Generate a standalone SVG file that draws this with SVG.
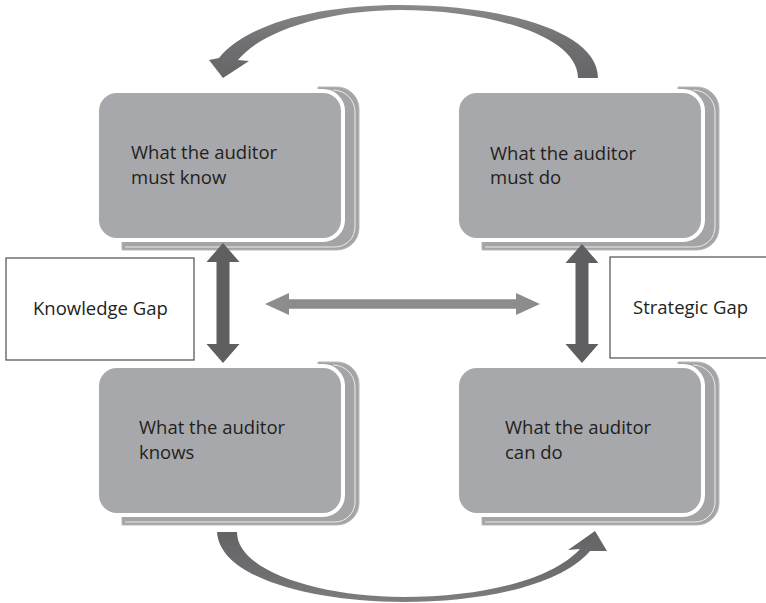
<svg xmlns="http://www.w3.org/2000/svg" xmlns:xlink="http://www.w3.org/1999/xlink" width="766" height="603" viewBox="0 0 766 603">
<style>
.lbl{font-family:"Open Sans","Liberation Sans",sans-serif;font-size:18.5px;fill:#231f20}
.gap{fill:#fff;stroke:#4d4d4f;stroke-width:1.2}
.dark{fill:#5f5f61}
.light{fill:#8b8c8e}
</style>
<defs>
<linearGradient id="gTop" x1="0" y1="5" x2="0" y2="78" gradientUnits="userSpaceOnUse">
<stop offset="0" stop-color="#8a8a8c"/><stop offset="0.5" stop-color="#707072"/><stop offset="1" stop-color="#666668"/>
</linearGradient>
<linearGradient id="gBot" x1="0" y1="532" x2="0" y2="602" gradientUnits="userSpaceOnUse">
<stop offset="0" stop-color="#646466"/><stop offset="0.6" stop-color="#6e6e70"/><stop offset="1" stop-color="#7e7e80"/>
</linearGradient>
<g id="card">
<path d="M221,-4 H240 A22 22 0 0 1 262,18 V137 A22 22 0 0 1 240,159 H25 V100 H221 Z" fill="#a4a3a5" stroke="#b9b8ba" stroke-width="1"/>
<path d="M236,-1 A22 22 0 0 1 258,21 V136 A20 20 0 0 1 238,156 H28" fill="none" stroke="#fff" stroke-width="0.8"/>
<rect x="0" y="0" width="246" height="149" rx="20" fill="#a7a8ab" stroke="#fff" stroke-width="4"/>
</g>
</defs>
<rect width="766" height="603" fill="#fff"/>

<g id="node-must-know">
<use xlink:href="#card" transform="translate(97,91)"/>
<text class="lbl"><tspan x="131" y="159">What the auditor</tspan><tspan x="131" y="184">must know</tspan></text>
</g>
<g id="node-must-do">
<use xlink:href="#card" transform="translate(457,91)"/>
<text class="lbl"><tspan x="490" y="160">What the auditor</tspan><tspan x="490" y="184">must do</tspan></text>
</g>
<g id="node-knows">
<use xlink:href="#card" transform="translate(97,366)"/>
<text class="lbl"><tspan x="139" y="434">What the auditor</tspan><tspan x="139" y="459">knows</tspan></text>
</g>
<g id="node-can-do">
<use xlink:href="#card" transform="translate(457,366)"/>
<text class="lbl"><tspan x="505" y="434">What the auditor</tspan><tspan x="505" y="459">can do</tspan></text>
</g>
<g id="node-knowledge-gap">
<rect class="gap" x="6" y="258" width="188" height="102"/>
<text class="lbl" x="33" y="315">Knowledge Gap</text>
</g>
<g id="node-strategic-gap">
<rect class="gap" x="610" y="257" width="170" height="101"/>
<text class="lbl" x="633" y="314">Strategic Gap</text>
</g>

<g id="connectors">
<path d="M598,78 C598,30 500,5 400,5 C318,5 246,24 219,58 L209,60 L223,78 L249,61 L238,60 C262,30 330,10 400,10 C490,10 578,36 578,78 Z" fill="url(#gTop)"/>
<path d="M217,532 C220,580 318,602 403,602 C482,602 560,586 590,551 L607,551 L595,531 L568,550 L580,549 C552,580 482,597 403,597 C322,597 237,572 237,532 Z" fill="url(#gBot)"/>
<polygon class="dark" points="223,243 239.5,262 229.5,262 229.5,344 239.5,344 223,363 206.5,344 216.5,344 216.5,262 206.5,262"/>
<polygon class="dark" points="582,244 598.5,263 588.5,263 588.5,344 598.5,344 582,363 565.5,344 575.5,344 575.5,263 565.5,263"/>
<polygon class="light" points="265,304 289,293 289,299.3 516,299.3 516,293 540,304 516,315 516,308.7 289,308.7 289,315"/>
</g>
</svg>
